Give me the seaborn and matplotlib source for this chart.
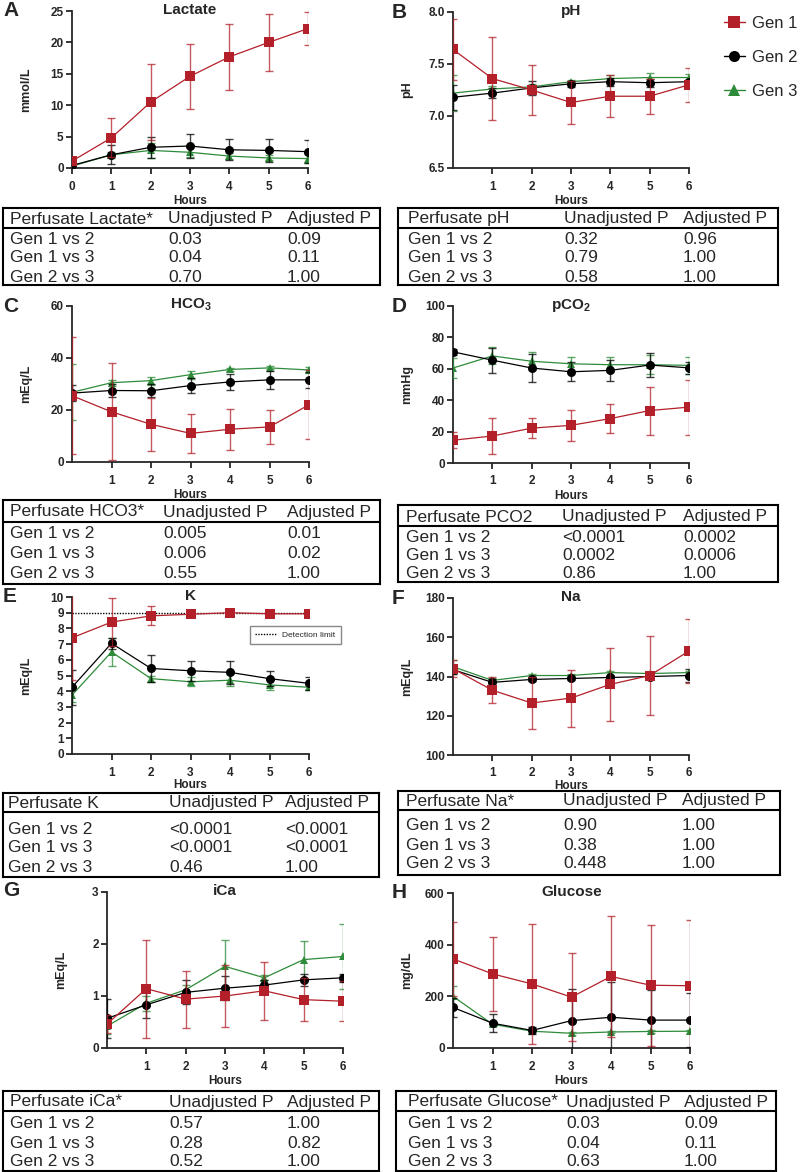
import matplotlib
matplotlib.use("Agg")
import matplotlib.pyplot as plt
import seaborn as sns
from matplotlib.lines import Line2D

# ---------------- data ----------------
hours = [0, 1, 2, 3, 4, 5, 6]
series_names = ["Gen 1", "Gen 2", "Gen 3"]

lactate_g1 = [1.1, 4.8, 10.5, 14.6, 17.7, 20.0, 22.2]
lactate_g1_sd = [0.6, 3.1, 6.0, 5.2, 5.3, 4.6, 2.6]
lactate_g2 = [0.4, 2.1, 3.3, 3.5, 2.9, 2.8, 2.6]
lactate_g2_sd = [0.2, 1.5, 1.7, 1.9, 1.7, 1.8, 1.8]
lactate_g3 = [0.3, 2.1, 2.8, 2.5, 1.9, 1.6, 1.5]
lactate_g3_sd = [0.2, 0.5, 1.2, 0.8, 0.5, 0.4, 0.7]

ph_g1 = [7.64, 7.36, 7.25, 7.13, 7.19, 7.19, 7.30]
ph_g1_sd = [0.29, 0.40, 0.245, 0.21, 0.20, 0.17, 0.165]
ph_g2 = [7.18, 7.22, 7.27, 7.31, 7.33, 7.32, 7.33]
ph_g2_sd = [0.12, 0.05, 0.07, 0.03, 0.04, 0.04, 0.03]
ph_g3 = [7.22, 7.26, 7.28, 7.33, 7.36, 7.37, 7.37]
ph_g3_sd = [0.17, 0.03, 0.03, 0.02, 0.03, 0.04, 0.03]

hco3_g1 = [25.5, 19.3, 14.5, 11.0, 12.6, 13.5, 22.0]
hco3_g1_sd = [22.5, 18.6, 10.3, 7.4, 7.8, 6.6, 13.2]
hco3_g2 = [26.5, 27.5, 27.4, 29.4, 30.8, 31.6, 31.6]
hco3_g2_sd = [3.0, 2.5, 2.5, 2.8, 3.0, 3.5, 3.0]
hco3_g3 = [26.8, 30.5, 31.3, 33.6, 35.6, 36.2, 35.4]
hco3_g3_sd = [10.8, 1.2, 1.5, 1.5, 0.7, 0.6, 1.3]

pco2_g1 = [14.5, 17.2, 22.2, 24.0, 28.3, 33.4, 35.6]
pco2_g1_sd = [5.0, 11.2, 6.3, 10.0, 9.5, 15.3, 17.5]
pco2_g2 = [70.8, 65.5, 60.5, 58.1, 59.0, 62.4, 60.6]
pco2_g2_sd = [2.0, 8.0, 9.0, 6.0, 6.5, 7.9, 4.0]
pco2_g3 = [60.5, 68.2, 64.8, 63.2, 62.6, 62.6, 62.2]
pco2_g3_sd = [6.5, 5.4, 5.7, 4.5, 4.6, 6.2, 5.5]

k_g1 = [7.4, 8.4, 8.8, 8.9, 9.0, 8.93, 8.93]
k_g1_sd = [2.7, 1.55, 0.6, 0.12, 0.05, 0.08, 0.08]
k_g2 = [4.25, 7.05, 5.45, 5.3, 5.2, 4.8, 4.5]
k_g2_sd = [1.1, 0.35, 0.85, 0.65, 0.75, 0.5, 0.4]
k_g3 = [3.75, 6.5, 4.8, 4.6, 4.7, 4.4, 4.25]
k_g3_sd = [0.45, 0.9, 0.2, 0.3, 0.4, 0.35, 0.15]
detection_limit = 9

na_g1 = [144, 133, 126.5, 129, 136, 140.5, 153]
na_g1_sd = [4.5, 6.5, 13, 14.5, 18.5, 20, 16.5]
na_g2 = [143.5, 137, 138.5, 139, 139.5, 140, 140.5]
na_g2_sd = [2, 1.5, 1, 1, 1, 1, 3.5]
na_g3 = [145, 138, 140.5, 140.5, 142, 141.5, 142]
na_g3_sd = [3.5, 1, 1, 1, 1, 1, 1]

ica_g1 = [0.46, 1.14, 0.94, 1.0, 1.1, 0.93, 0.9]
ica_g1_sd = [0.17, 0.94, 0.55, 0.6, 0.56, 0.41, 0.39]
ica_g2 = [0.57, 0.83, 1.07, 1.15, 1.21, 1.31, 1.35]
ica_g2_sd = [0.38, 0.25, 0.23, 0.23, 0.1, 0.11, 0.08]
ica_g3 = [0.42, 0.86, 1.12, 1.57, 1.35, 1.7, 1.76]
ica_g3_sd = [0.15, 0.14, 0.1, 0.5, 0.05, 0.36, 0.63]

glu_g1 = [345, 287, 248, 197, 277, 243, 241]
glu_g1_sd = [143, 143, 233, 171, 233, 235, 255]
glu_g2 = [157, 96, 68, 106, 119, 108, 108]
glu_g2_sd = [38, 35, 15, 122, 136, 117, 105]
glu_g3 = [200, 92, 65, 57, 62, 64, 65]
glu_g3_sd = [40, 5, 5, 5, 5, 5, 5]

table_header_cols = ["Unadjusted P", "Adjusted P"]
table_row_labels = ["Gen 1 vs 2", "Gen 1 vs 3", "Gen 2 vs 3"]
lactate_unadj = ["0.03", "0.04", "0.70"]
lactate_adj = ["0.09", "0.11", "1.00"]
ph_unadj = ["0.32", "0.79", "0.58"]
ph_adj = ["0.96", "1.00", "1.00"]
hco3_unadj = ["0.005", "0.006", "0.55"]
hco3_adj = ["0.01", "0.02", "1.00"]
pco2_unadj = ["<0.0001", "0.0002", "0.86"]
pco2_adj = ["0.0002", "0.0006", "1.00"]
k_unadj = ["<0.0001", "<0.0001", "0.46"]
k_adj = ["<0.0001", "<0.0001", "1.00"]
na_unadj = ["0.90", "0.38", "0.448"]
na_adj = ["1.00", "1.00", "1.00"]
ica_unadj = ["0.57", "0.28", "0.52"]
ica_adj = ["1.00", "0.82", "1.00"]
glu_unadj = ["0.03", "0.04", "0.63"]
glu_adj = ["0.09", "0.11", "1.00"]

# ---------------- style ----------------
sns.set_style("ticks")
plt.rcParams["font.family"] = ["Liberation Sans", "DejaVu Sans"]
plt.rcParams["mathtext.fontset"] = "custom"
plt.rcParams["mathtext.rm"] = "Liberation Sans"
plt.rcParams["mathtext.bf"] = "Liberation Sans:bold"

RED = "#B3202A"
BLACK = "#000000"
GREEN = "#2E8B3A"
styles = {
    "Gen 1": dict(color=RED, marker="s", ms=6.5, z=6),
    "Gen 2": dict(color=BLACK, marker="o", ms=6.5, z=5),
    "Gen 3": dict(color=GREEN, marker="^", ms=6.0, z=4),
}

W, H = 800, 1172
fig = plt.figure(figsize=(W / 100, H / 100), dpi=100)


def px_axes(x0, x1, y0, y1):
    return fig.add_axes([x0 / W, 1 - y1 / H, (x1 - x0) / W, (y1 - y0) / H])


def panel(box, title, ylabel, data, ylim, yticks, xticks, yfmt=None, xlabelpad=2):
    x0, x1, y0, y1 = box
    ax = px_axes(x0, x1, y0, y1)
    ax.set_facecolor("none")
    for name in ["Gen 3", "Gen 2", "Gen 1"]:
        m, sd = data[name]
        st = styles[name]
        ax.errorbar(hours, m, yerr=sd, fmt="none", ecolor=st["color"], alpha=0.75,
                    elinewidth=1.0, capsize=3, capthick=1.0, zorder=st["z"])
        sns.lineplot(x=hours, y=m, ax=ax, color=st["color"], marker=st["marker"],
                     markersize=st["ms"], markeredgewidth=0, linewidth=0.9,
                     errorbar=None, legend=False, zorder=st["z"] + 0.5)
    ax.set_xlim(0, 6)
    ax.set_ylim(*ylim)
    ax.set_xticks(xticks)
    ax.set_yticks(yticks)
    if yfmt:
        ax.set_yticklabels([yfmt.format(v) for v in yticks])
    for lab in ax.get_xticklabels() + ax.get_yticklabels():
        lab.set_fontweight("bold")
        lab.set_fontsize(8.5)
    sns.despine(ax=ax)
    for s in ["left", "bottom"]:
        ax.spines[s].set_linewidth(1.3)
    ax.tick_params(direction="out", length=4, width=1.3)
    ax.tick_params(axis="x", pad=5)
    ax.tick_params(axis="y", pad=2)
    ax.set_xlabel("Hours", fontweight="bold", fontsize=8.5, labelpad=xlabelpad)
    ax.set_ylabel(ylabel, fontweight="bold", fontsize=9)
    ax.yaxis.set_label_coords(-40 / (x1 - x0), 0.5)
    ax.text(0.5, 1.0 + 1 / (y1 - y0), title, transform=ax.transAxes, ha="center",
            va="center", fontsize=11, fontweight="bold")
    return ax


def table(box, sep, header_y, rows_y, cols, first, unadj, adj, size=12.5):
    x0, x1, y0, y1 = box
    ax = px_axes(x0, x1, y0, y1)
    ax.set_facecolor("none")
    ax.set_xlim(x0, x1)
    ax.set_ylim(y1, y0)
    ax.set_xticks([])
    ax.set_yticks([])
    for s in ax.spines.values():
        s.set_visible(True)
        s.set_linewidth(1.5)
        s.set_color("black")
    ax.axhline(sep, color="black", lw=1.5)
    header = [first] + table_header_cols
    for c, t in zip(cols, header):
        ax.text(c, header_y, t, ha="left", va="center", fontsize=size)
    for ry, lab, u, a in zip(rows_y, table_row_labels, unadj, adj):
        for c, t in zip(cols, [lab, u, a]):
            ax.text(c, ry, t, ha="left", va="center", fontsize=size)


def fig_letter(x, y, letter):
    fig.text(x / W, 1 - y / H, letter, ha="left", va="center", fontsize=15, fontweight="bold")


xt_all = [0, 1, 2, 3, 4, 5, 6]
xt = [1, 2, 3, 4, 5, 6]

panel((72, 308, 11, 168), "Lactate", "mmol/L",
      {"Gen 1": (lactate_g1, lactate_g1_sd), "Gen 2": (lactate_g2, lactate_g2_sd),
       "Gen 3": (lactate_g3, lactate_g3_sd)},
      (0, 25), [0, 5, 10, 15, 20, 25], xt_all)
panel((453, 689, 12, 168), "pH", "pH",
      {"Gen 1": (ph_g1, ph_g1_sd), "Gen 2": (ph_g2, ph_g2_sd), "Gen 3": (ph_g3, ph_g3_sd)},
      (6.5, 8.0), [6.5, 7.0, 7.5, 8.0], xt, yfmt="{:.1f}")
panel((72, 309, 306, 462), r"HCO$_{\mathbf{3}}$", "mEq/L",
      {"Gen 1": (hco3_g1, hco3_g1_sd), "Gen 2": (hco3_g2, hco3_g2_sd),
       "Gen 3": (hco3_g3, hco3_g3_sd)},
      (0, 60), [0, 20, 40, 60], xt)
panel((453, 689, 306, 463), r"pCO$_{\mathbf{2}}$", "mmHg",
      {"Gen 1": (pco2_g1, pco2_g1_sd), "Gen 2": (pco2_g2, pco2_g2_sd),
       "Gen 3": (pco2_g3, pco2_g3_sd)},
      (0, 100), [0, 20, 40, 60, 80, 100], xt)
axE = panel((72, 309, 597, 754), "K", "mEq/L",
            {"Gen 1": (k_g1, k_g1_sd), "Gen 2": (k_g2, k_g2_sd), "Gen 3": (k_g3, k_g3_sd)},
            (0, 10), list(range(0, 11)), xt, xlabelpad=0.5)
axE.axhline(detection_limit, color="black", ls=(0, (1, 1)), lw=1.0, zorder=3)
axE.legend(handles=[Line2D([0], [0], color="black", ls=(0, (1, 1)), lw=1.0)],
           labels=["Detection limit"], loc="upper left",
           bbox_to_anchor=((250 - 72) / 237, (754 - 626) / 157), fontsize=6,
           frameon=True, fancybox=False, edgecolor="#888888", framealpha=1,
           handlelength=2.5, borderpad=0.6, borderaxespad=0)
panel((453, 689, 598, 755), "Na", "mEq/L",
      {"Gen 1": (na_g1, na_g1_sd), "Gen 2": (na_g2, na_g2_sd), "Gen 3": (na_g3, na_g3_sd)},
      (100, 180), [100, 120, 140, 160, 180], xt, xlabelpad=0.5)
panel((107, 343, 892, 1048), "iCa", "mEq/L",
      {"Gen 1": (ica_g1, ica_g1_sd), "Gen 2": (ica_g2, ica_g2_sd), "Gen 3": (ica_g3, ica_g3_sd)},
      (0, 3), [0, 1, 2, 3], xt)
panel((453, 690, 893, 1048), "Glucose", "mg/dL",
      {"Gen 1": (glu_g1, glu_g1_sd), "Gen 2": (glu_g2, glu_g2_sd), "Gen 3": (glu_g3, glu_g3_sd)},
      (0, 600), [0, 200, 400, 600], xt)

for x, y, l in [(3, 10, "A"), (392, 12, "B"), (3, 306, "C"), (392, 306, "D"),
                (3, 597, "E"), (392, 598, "F"), (3, 890, "G"), (392, 893, "H")]:
    fig_letter(x, y, l)

# legend
handles = [Line2D([0], [0], color=styles[n]["color"], marker=styles[n]["marker"],
                  markersize=8, markeredgewidth=0, lw=1.0) for n in series_names]
fig.legend(handles, series_names, loc="upper left", bbox_to_anchor=(724 / W, 1 - 16 / H),
           frameon=False, fontsize=12, handlelength=1.25, handletextpad=0.4,
           labelspacing=1.15, borderpad=0, borderaxespad=0)

# tables
table((3, 380, 208, 285), 228, 219, [239, 258, 277], [10, 168, 287],
      "Perfusate Lactate*", lactate_unadj, lactate_adj)
table((398, 778, 208, 285), 228, 219, [239, 258, 277], [408, 564, 683],
      "Perfusate pH", ph_unadj, ph_adj)
table((3, 380, 500, 584), 522, 512, [534, 554, 573], [10, 163, 287],
      "Perfusate HCO3*", hco3_unadj, hco3_adj)
table((398, 778, 505, 582), 526, 517, [537, 556, 574], [406, 562, 683],
      "Perfusate PCO2", pco2_unadj, pco2_adj)
table((3, 379, 793, 877), 812, 803, [829, 848, 867], [8, 169, 285],
      "Perfusate K", k_unadj, k_adj)
table((398, 780, 791, 875), 810, 801, [826, 845, 864], [406, 563, 682],
      "Perfusate Na*", na_unadj, na_adj)
table((3, 379, 1091, 1171), 1111, 1102, [1123, 1143, 1162], [10, 169, 287],
      "Perfusate iCa*", ica_unadj, ica_adj)
table((396, 776, 1091, 1171), 1111, 1102, [1123, 1143, 1162], [408, 566, 684],
      "Perfusate Glucose*", glu_unadj, glu_adj)

fig.savefig("out.png", dpi=100)
